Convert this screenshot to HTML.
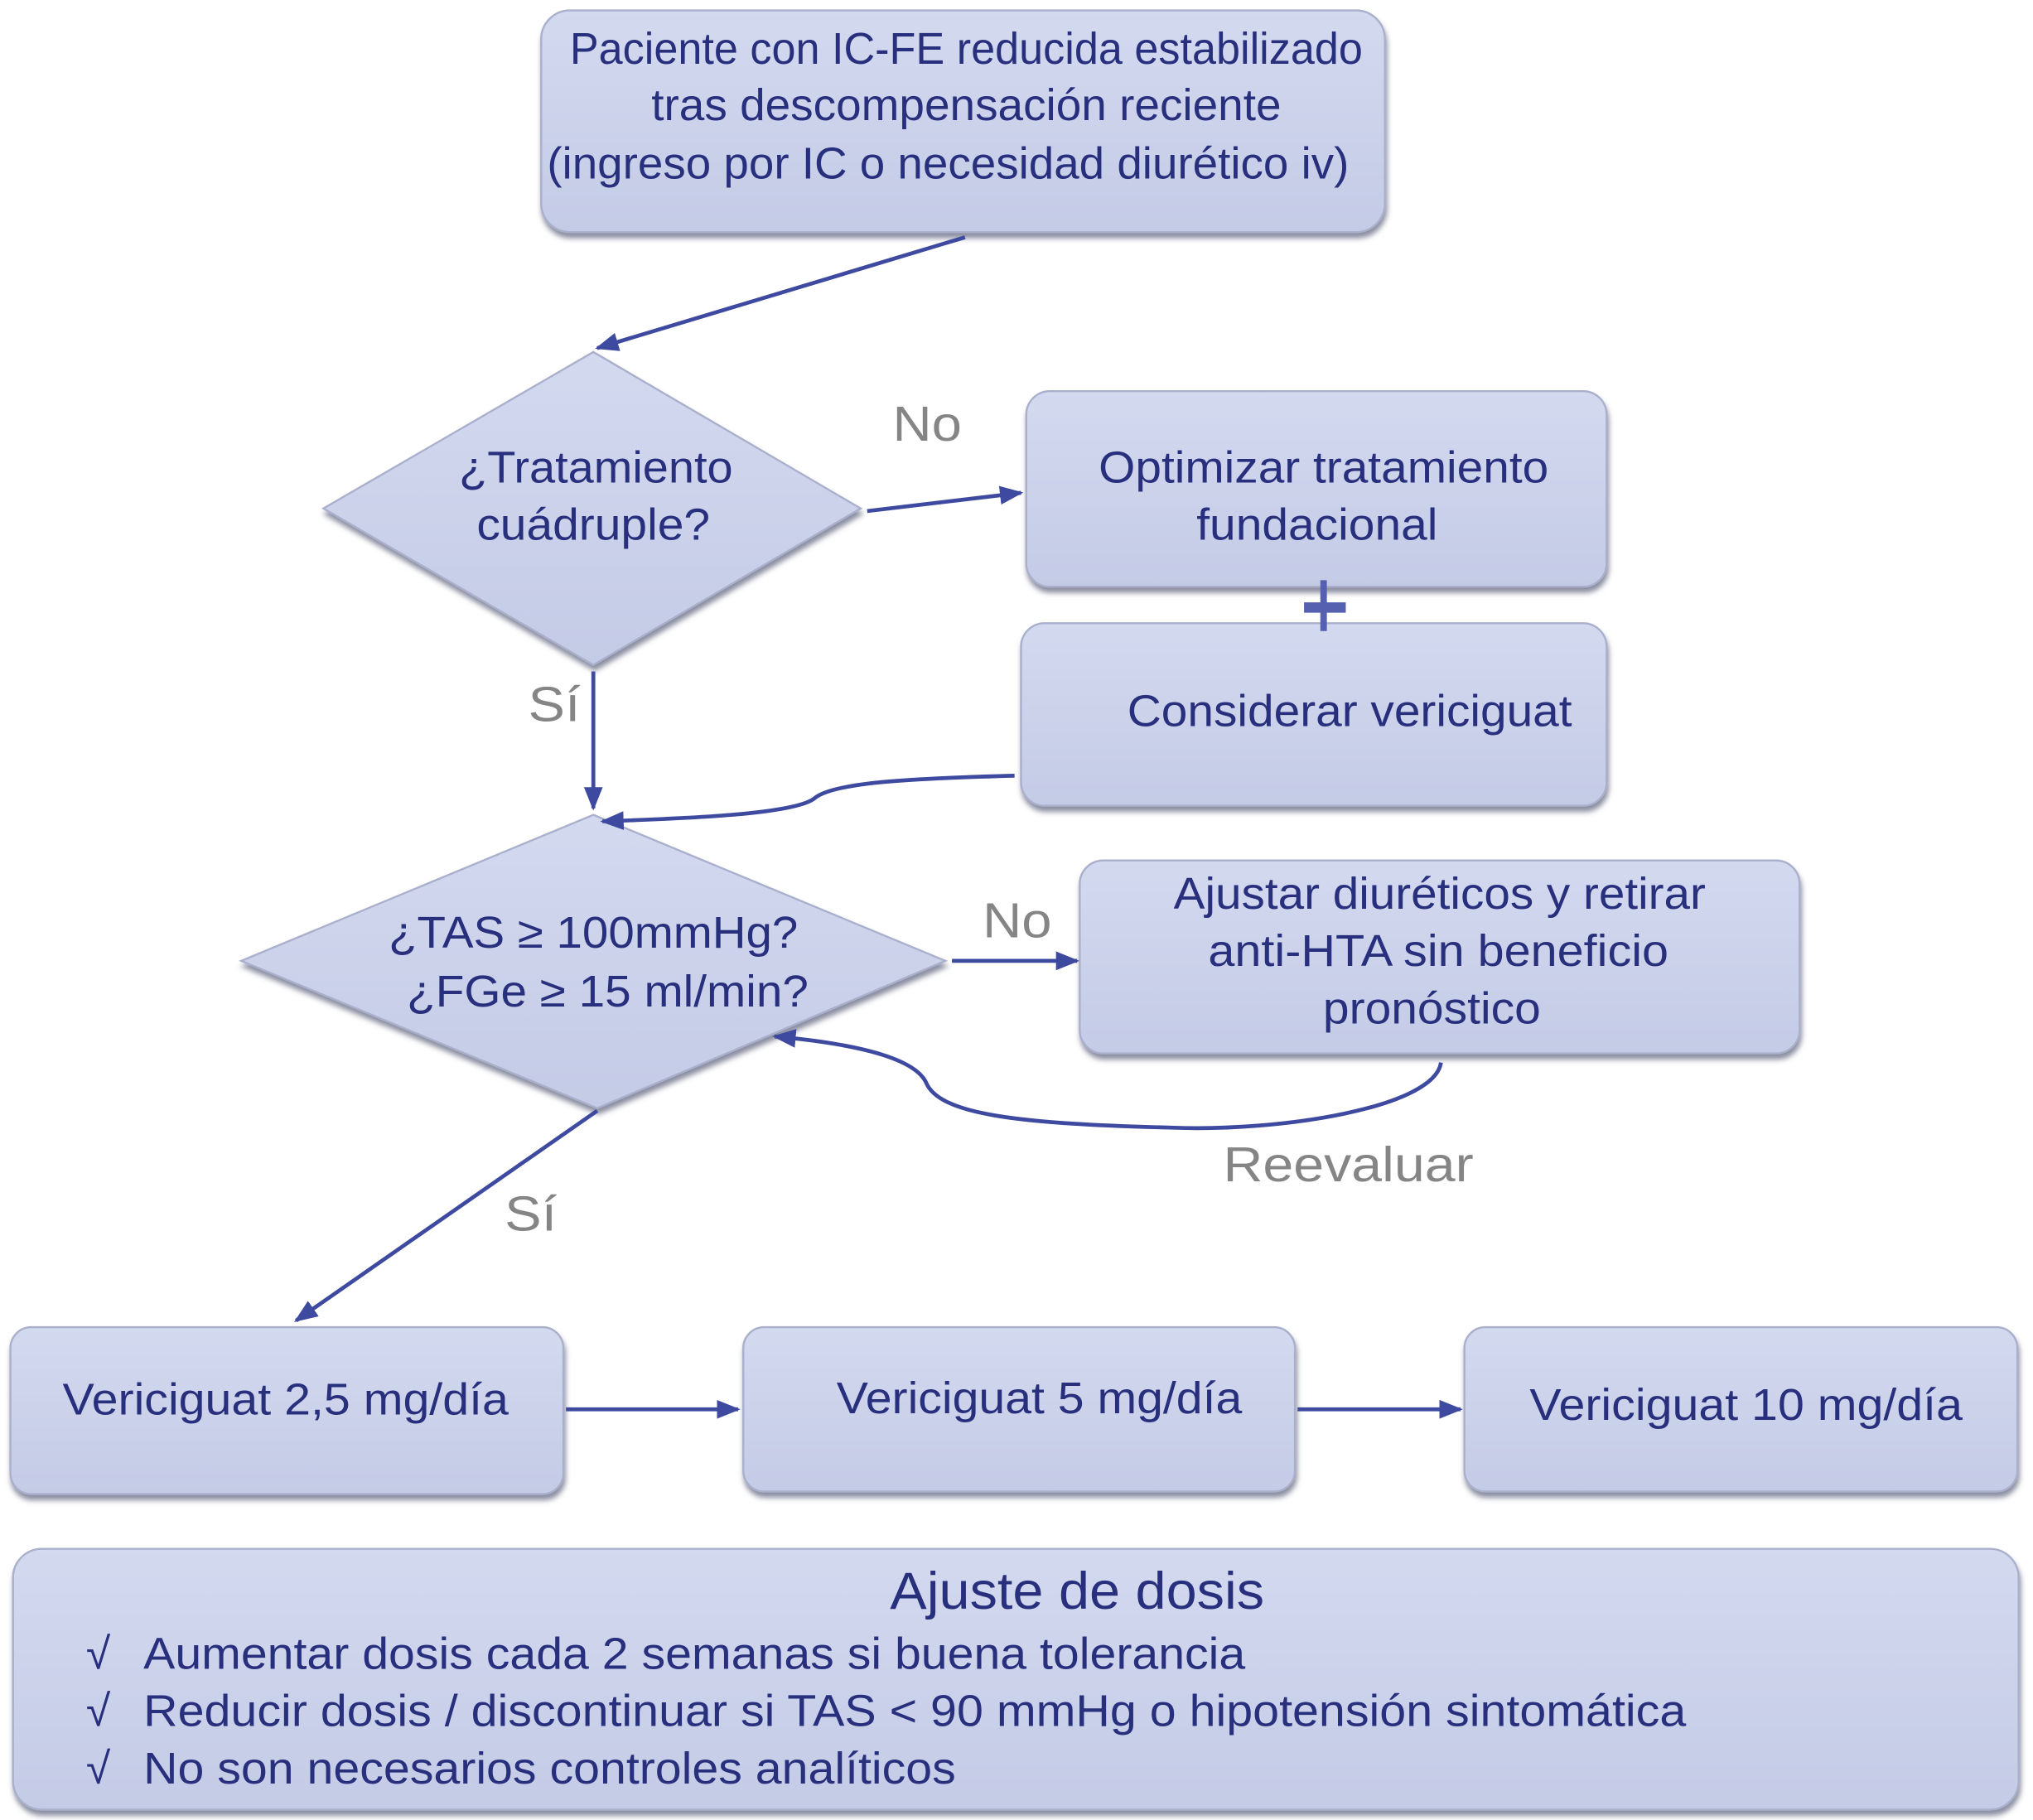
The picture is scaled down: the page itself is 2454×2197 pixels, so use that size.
<!DOCTYPE html>
<html><head><meta charset="utf-8"><style>html,body{margin:0;padding:0;background:#fff}svg{display:block}</style></head><body>
<svg width="2454" height="2197" viewBox="0 0 1559 1396" preserveAspectRatio="none" xmlns="http://www.w3.org/2000/svg">
<defs>
<linearGradient id="g" x1="0" y1="0" x2="0" y2="1"><stop offset="0" stop-color="#d3d9ef"/><stop offset="1" stop-color="#c4cbe6"/></linearGradient>
<filter id="s" x="-5%" y="-5%" width="110%" height="115%"><feDropShadow dx="1" dy="4" stdDeviation="2" flood-color="#5a5f78" flood-opacity="0.7"/></filter>
<marker id="a" viewBox="0 0 10 10" refX="9" refY="5" markerWidth="6" markerHeight="6" orient="auto"><path d="M0,1 L10,5 L0,9 z" fill="#3e4aa0"/></marker>
</defs>
<g fill="url(#g)" stroke="#aab0cc" stroke-width="1.5" filter="url(#s)">
<rect x="415" y="8" width="647" height="170" rx="22"/>
<path d="M455,270 L660,390 L455,510 L248,390 Z"/>
<rect x="787" y="300" width="445" height="150" rx="18"/>
<rect x="783" y="478" width="449" height="140" rx="18"/>
<path d="M455,625 L725,737 L458,850 L185,737 Z"/>
<rect x="828" y="660" width="552" height="148" rx="18"/>
<rect x="8" y="1018" width="424" height="128" rx="16"/>
<rect x="570" y="1018" width="423" height="126" rx="16"/>
<rect x="1123" y="1018" width="424" height="126" rx="16"/>
<rect x="10" y="1188" width="1538" height="200" rx="22"/>
</g>
<g stroke="#3e4aa0" stroke-width="3" fill="none" marker-end="url(#a)">
<path d="M740,182 L458,267"/>
<path d="M665,392 L783,378"/>
<path d="M455,515 L455,620"/>
<path d="M778,595 C700,597 640,600 625,612 C610,625 520,628 462,630"/>
<path d="M730,737 L826,737"/>
<path d="M1105,815 C1100,850 980,868 900,865 C780,862 720,855 710,830 C700,810 650,800 594,795"/>
<path d="M458,852 L227,1013"/>
<path d="M434,1081 L566,1081"/>
<path d="M995,1081 L1120,1081"/>
</g>
<g stroke="#5560b0"><line x1="1015" y1="445" x2="1015" y2="484" stroke-width="5"/><line x1="1000" y1="466" x2="1032" y2="466" stroke-width="8"/></g>
<g font-family="Liberation Sans, sans-serif" font-size="34" fill="#28307e" text-anchor="middle" lengthAdjust="spacingAndGlyphs">
<text x="741" y="49" textLength="608" lengthAdjust="spacingAndGlyphs">Paciente con IC-FE reducida estabilizado</text>
<text x="741" y="92" textLength="483" lengthAdjust="spacingAndGlyphs">tras descompensación reciente</text>
<text x="727" y="137" textLength="615" lengthAdjust="spacingAndGlyphs">(ingreso por IC o necesidad diurético iv)</text>
<text x="457" y="370" textLength="210" lengthAdjust="spacingAndGlyphs">¿Tratamiento</text>
<text x="455" y="414" textLength="179" lengthAdjust="spacingAndGlyphs">cuádruple?</text>
<text x="1015" y="370" textLength="345" lengthAdjust="spacingAndGlyphs">Optimizar tratamiento</text>
<text x="1010" y="414" textLength="185" lengthAdjust="spacingAndGlyphs">fundacional</text>
<text x="1035" y="557" textLength="341" lengthAdjust="spacingAndGlyphs">Considerar vericiguat</text>
<text x="455" y="727" textLength="314" lengthAdjust="spacingAndGlyphs">¿TAS ≥ 100mmHg?</text>
<text x="466" y="772" textLength="308" lengthAdjust="spacingAndGlyphs">¿FGe ≥ 15 ml/min?</text>
<text x="1104" y="697" textLength="408" lengthAdjust="spacingAndGlyphs">Ajustar diuréticos y retirar</text>
<text x="1103" y="741" textLength="353" lengthAdjust="spacingAndGlyphs">anti-HTA sin beneficio</text>
<text x="1098" y="785" textLength="167" lengthAdjust="spacingAndGlyphs">pronóstico</text>
<text x="219" y="1085" textLength="342" lengthAdjust="spacingAndGlyphs">Vericiguat 2,5 mg/día</text>
<text x="797" y="1084" textLength="311" lengthAdjust="spacingAndGlyphs">Vericiguat 5 mg/día</text>
<text x="1339" y="1089" textLength="332" lengthAdjust="spacingAndGlyphs">Vericiguat 10 mg/día</text>
<text x="826" y="1234" font-size="40" textLength="287" lengthAdjust="spacingAndGlyphs">Ajuste de dosis</text>
</g>
<g font-family="Liberation Sans, sans-serif" font-size="34" fill="#28307e">
<text x="66" y="1280">√</text><text x="110" y="1280" textLength="845" lengthAdjust="spacingAndGlyphs">Aumentar dosis cada 2 semanas si buena tolerancia</text>
<text x="66" y="1324">√</text><text x="110" y="1324" textLength="1183" lengthAdjust="spacingAndGlyphs">Reducir dosis / discontinuar si TAS &lt; 90 mmHg o hipotensión sintomática</text>
<text x="66" y="1368">√</text><text x="110" y="1368" textLength="623" lengthAdjust="spacingAndGlyphs">No son necesarios controles analíticos</text>
</g>
<g font-family="Liberation Sans, sans-serif" font-size="38" fill="#858585" text-anchor="middle">
<text x="711" y="338" textLength="53" lengthAdjust="spacingAndGlyphs">No</text>
<text x="425" y="553" textLength="40" lengthAdjust="spacingAndGlyphs">Sí</text>
<text x="780" y="719" textLength="53" lengthAdjust="spacingAndGlyphs">No</text>
<text x="1034" y="906" textLength="192" lengthAdjust="spacingAndGlyphs">Reevaluar</text>
<text x="407" y="944" textLength="40" lengthAdjust="spacingAndGlyphs">Sí</text>
</g>
</svg>
</body></html>
